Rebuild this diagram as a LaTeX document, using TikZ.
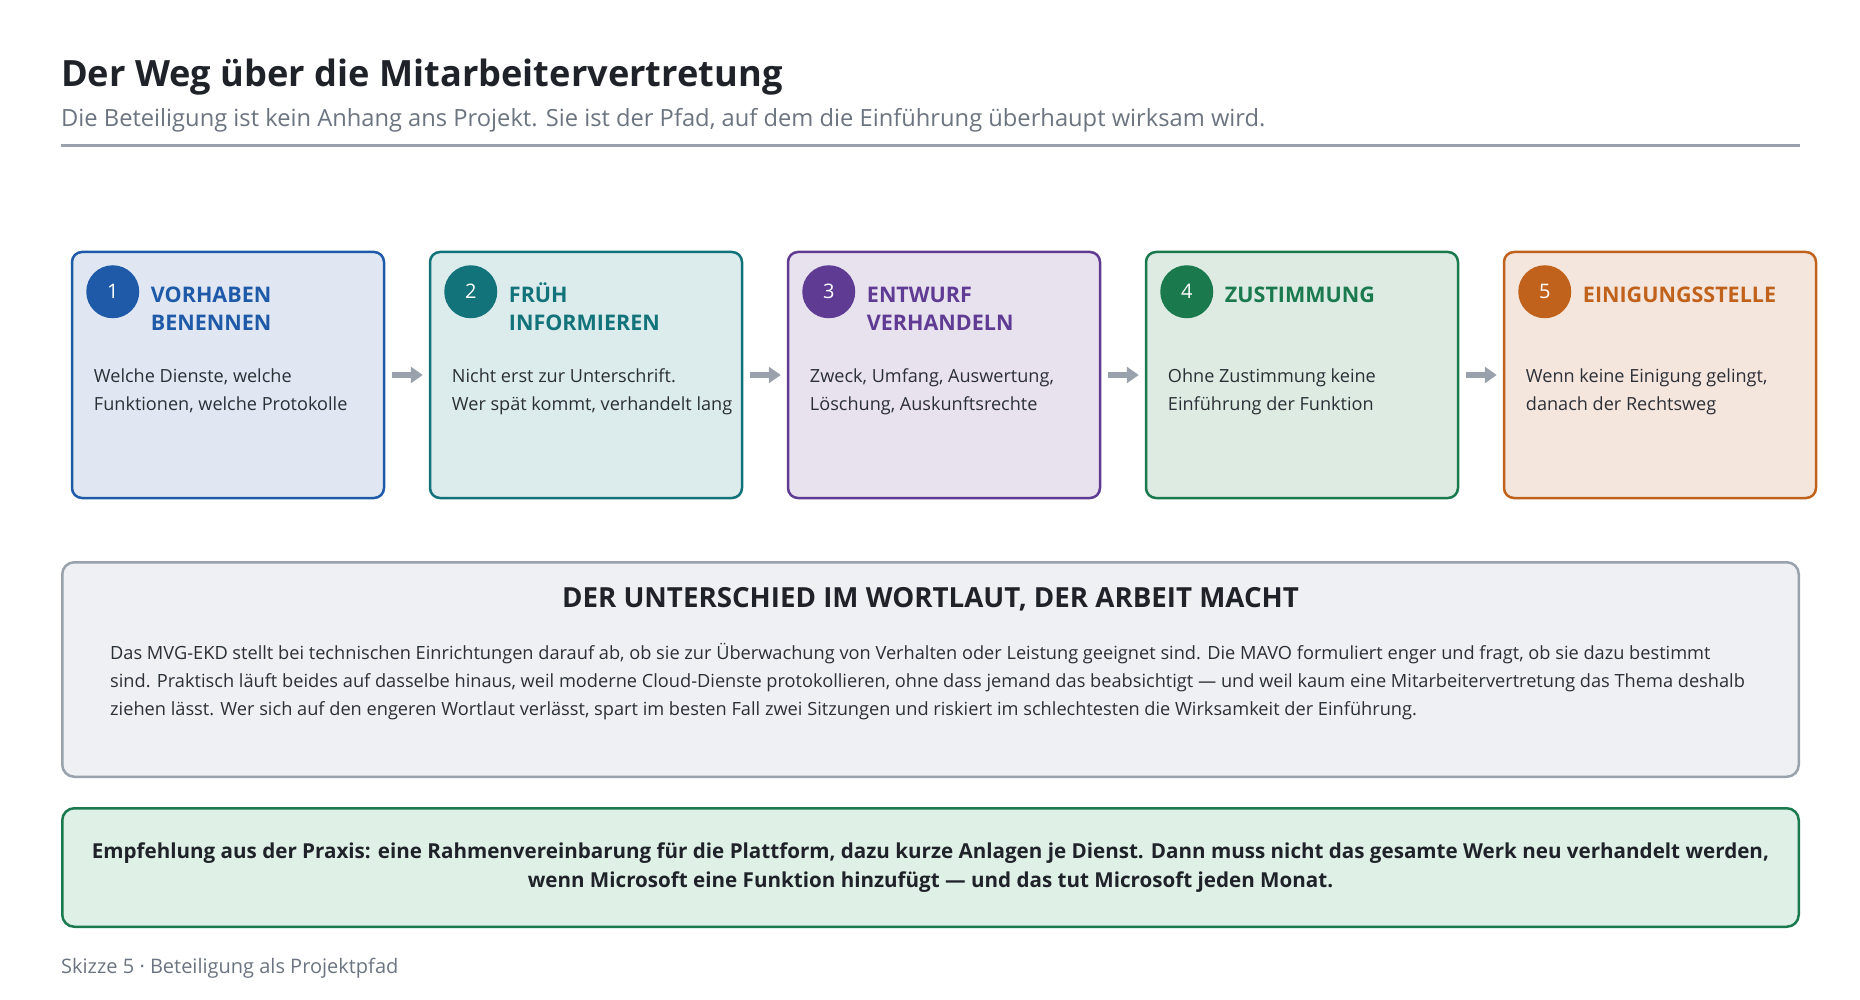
\documentclass[tikz,border=0pt]{standalone}
\usepackage{fontspec}
\setmainfont{Open Sans}
\usepackage{xcolor}
\usepackage{tikz}
\usetikzlibrary{positioning,calc,arrows.meta}

\definecolor{inkdark}{HTML}{1F2329}
\definecolor{inkbody}{HTML}{2B2F36}
\definecolor{inkgrey}{HTML}{6B7480}
\definecolor{rulegrey}{HTML}{98A1AC}
\definecolor{stepblue}{HTML}{1E5AA8}
\definecolor{fillblue}{HTML}{E0E7F2}
\definecolor{stepteal}{HTML}{13737B}
\definecolor{fillteal}{HTML}{DCEBEB}
\definecolor{steppurple}{HTML}{5F3B94}
\definecolor{fillpurple}{HTML}{E8E2EF}
\definecolor{stepgreen}{HTML}{1A7A4E}
\definecolor{fillgreen}{HTML}{DDEBE2}
\definecolor{steporange}{HTML}{C0621B}
\definecolor{fillorange}{HTML}{F5E6DD}
\definecolor{notefill}{HTML}{EEF0F4}
\definecolor{tipfill}{HTML}{DFF0E6}

\begin{document}
\begin{tikzpicture}[x=1pt, y=-1pt, node distance=43.5pt,
    stepbox/.style 2 args={draw=#1, fill=#2, line width=2.5pt, rounded corners=10pt, minimum width=312pt, minimum height=246pt, inner sep=0pt},
    stepnum/.style={circle, fill=#1, text=white, minimum size=53pt, inner sep=0pt, font=\fontsize{20}{20}\selectfont},
    stephead/.style={text=#1, anchor=base west, align=left, inner sep=0pt, font=\bfseries\fontsize{21.5}{28}\selectfont},
    steptext/.style={text=inkbody, anchor=base west, align=left, inner sep=0pt, font=\fontsize{18.1}{28}\selectfont},
    flow/.style={draw=rulegrey, line width=6pt, -{Triangle[length=12pt,width=16pt]}, shorten <=7pt, shorten >=6pt}]
    \useasboundingbox (0,0) rectangle (1860,1000);

    \node[anchor=base west, inner sep=0pt, text=inkdark, font=\bfseries\fontsize{36.2}{44}\selectfont] (title) at (61,87) {Der Weg über die Mitarbeitervertretung};
    \node[anchor=base west, inner sep=0pt, text=inkgrey, font=\fontsize{23.7}{28}\selectfont] (sub) at (61,127) {Die Beteiligung ist kein Anhang ans Projekt. Sie ist der Pfad, auf dem die Einführung überhaupt wirksam wird.};
    \draw[rulegrey, line width=3pt] (61,146) -- (1800,146);

    \node[stepbox={stepblue}{fillblue}] (b1) at (228,375) {};
    \node[stepbox={stepteal}{fillteal}, right=of b1] (b2) {};
    \node[stepbox={steppurple}{fillpurple}, right=of b2] (b3) {};
    \node[stepbox={stepgreen}{fillgreen}, right=of b3] (b4) {};
    \node[stepbox={steporange}{fillorange}, right=of b4] (b5) {};

    \node[stepnum=stepblue] (n1) at ($(b1.north west)+(42,41)$) {1};
    \node[stepnum=stepteal] (n2) at ($(b2.north west)+(42,41)$) {2};
    \node[stepnum=steppurple] (n3) at ($(b3.north west)+(42,41)$) {3};
    \node[stepnum=stepgreen] (n4) at ($(b4.north west)+(42,41)$) {4};
    \node[stepnum=steporange] (n5) at ($(b5.north west)+(42,41)$) {5};

    \node[stephead=stepblue] (h1) at ($(b1.north west)+(80,80)$) {VORHABEN\\BENENNEN};
    \node[stephead=stepteal] (h2) at ($(b2.north west)+(80,80)$) {FRÜH\\INFORMIEREN};
    \node[stephead=steppurple] (h3) at ($(b3.north west)+(80,80)$) {ENTWURF\\VERHANDELN};
    \node[stephead=stepgreen] (h4) at ($(b4.north west)+(80,52)$) {ZUSTIMMUNG};
    \node[stephead=steporange] (h5) at ($(b5.north west)+(80,52)$) {EINIGUNGSSTELLE};

    \node[steptext] (t1) at ($(b1.north west)+(23,160)$) {Welche Dienste, welche\\Funktionen, welche Protokolle};
    \node[steptext] (t2) at ($(b2.north west)+(23,160)$) {Nicht erst zur Unterschrift.\\Wer spät kommt, verhandelt lang};
    \node[steptext] (t3) at ($(b3.north west)+(23,160)$) {Zweck, Umfang, Auswertung,\\Löschung, Auskunftsrechte};
    \node[steptext] (t4) at ($(b4.north west)+(23,160)$) {Ohne Zustimmung keine\\Einführung der Funktion};
    \node[steptext] (t5) at ($(b5.north west)+(23,160)$) {Wenn keine Einigung gelingt,\\danach der Rechtsweg};

    \draw[flow] (b1) -- (b2);
    \draw[flow] (b2) -- (b3);
    \draw[flow] (b3) -- (b4);
    \draw[flow] (b4) -- (b5);

    \node[draw=rulegrey, fill=notefill, line width=2.5pt, rounded corners=12pt, minimum width=1736.5pt, minimum height=214.5pt] (note) at (930.5,669.5) {};
    \node[anchor=base, inner sep=0pt, text=inkdark, font=\bfseries\fontsize{27.7}{34}\selectfont] (notehead) at (930.5,607) {DER UNTERSCHIED IM WORTLAUT, DER ARBEIT MACHT};
    \node[anchor=base west, align=left, inner sep=0pt, text=inkbody, font=\fontsize{18.2}{28}\selectfont] (notetext) at (110,715) {Das MVG-EKD stellt bei technischen Einrichtungen darauf ab, ob sie zur Überwachung von Verhalten oder Leistung geeignet sind. Die MAVO formuliert enger und fragt, ob sie dazu bestimmt\\sind. Praktisch läuft beides auf dasselbe hinaus, weil moderne Cloud-Dienste protokollieren, ohne dass jemand das beabsichtigt — und weil kaum eine Mitarbeitervertretung das Thema deshalb\\ziehen lässt. Wer sich auf den engeren Wortlaut verlässt, spart im besten Fall zwei Sitzungen und riskiert im schlechtesten die Wirksamkeit der Einführung.};

    \node[draw=stepgreen, fill=tipfill, line width=2.5pt, rounded corners=12pt, minimum width=1736.5pt, minimum height=118.5pt] (tip) at (930.5,867.5) {};
    \node[anchor=base, align=center, inner sep=0pt, text=inkdark, font=\bfseries\fontsize{20.6}{29}\selectfont] (tiptext) at (930.5,887) {Empfehlung aus der Praxis: eine Rahmenvereinbarung für die Plattform, dazu kurze Anlagen je Dienst. Dann muss nicht das gesamte Werk neu verhandelt werden,\\wenn Microsoft eine Funktion hinzufügt — und das tut Microsoft jeden Monat.};

    \node[anchor=base west, inner sep=0pt, text=inkgrey, font=\fontsize{20}{24}\selectfont] (foot) at (61,973) {Skizze 5 · Beteiligung als Projektpfad};
\end{tikzpicture}
\end{document}
